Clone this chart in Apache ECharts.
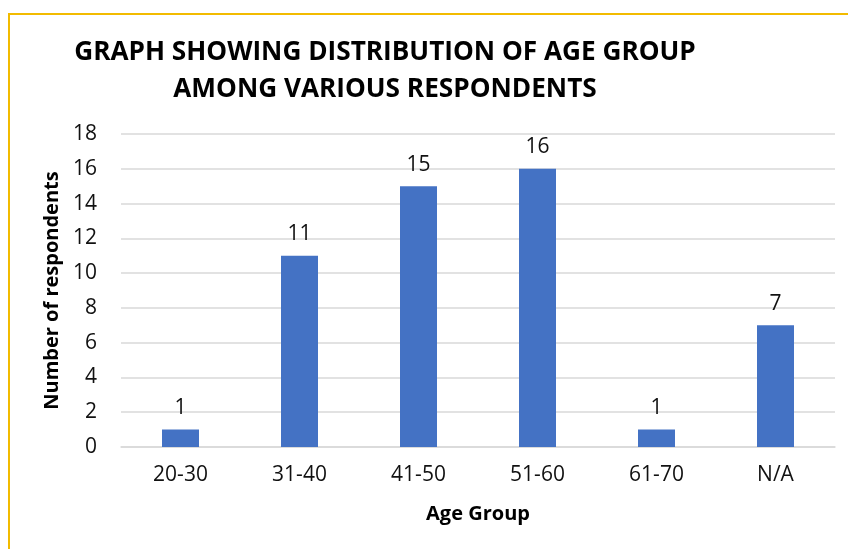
<!DOCTYPE html>
<html>
<head>
<meta charset="utf-8">
<script src="https://cdn.jsdelivr.net/npm/echarts@6/dist/echarts.min.js"></script>
<style>
  html, body { margin: 0; padding: 0; background: #fff; }
  #chart { width: 848px; height: 549px; }
</style>
</head>
<body>
<div id="chart"></div>
<script>
var ageGroups = ['20-30', '31-40', '41-50', '51-60', '61-70', 'N/A'];
var respondents = [1, 11, 15, 16, 1, 7];

var font = '"Open Sans", sans-serif';

var chart = echarts.init(document.getElementById('chart'));

var option = {
    backgroundColor: '#fff',
    textStyle: { fontFamily: font },
    title: {
        text: 'GRAPH SHOWING DISTRIBUTION OF AGE GROUP\nAMONG VARIOUS RESPONDENTS',
        left: 380,
        top: 29,
        textAlign: 'center',
        textStyle: {
            fontFamily: font,
            fontSize: 26.2,
            fontWeight: 'bold',
            color: '#000',
            lineHeight: 37,
            align: 'center'
        }
    },
    graphic: [{
        type: 'rect',
        shape: { x: 9, y: 14, width: 900, height: 600 },
        style: { fill: null, stroke: '#F2BB00', lineWidth: 2 }
    }],
    grid: { left: 121, right: 13, top: 134, bottom: 102 },
    xAxis: {
        type: 'category',
        data: ageGroups,
        name: 'Age Group',
        nameLocation: 'middle',
        nameGap: 57,
        nameTextStyle: { fontFamily: font, fontSize: 20, fontWeight: 'bold', color: '#000' },
        axisLine: { lineStyle: { color: '#d9d9d9', width: 1.5 } },
        axisTick: { show: false },
        axisLabel: { fontFamily: font, fontSize: 21, color: '#111', margin: 18 }
    },
    yAxis: {
        type: 'value',
        min: 0,
        max: 18,
        interval: 2,
        name: 'Number of respondents',
        nameLocation: 'middle',
        nameGap: 57,
        nameTextStyle: { fontFamily: font, fontSize: 20, fontWeight: 'bold', color: '#000' },
        axisLine: { show: false },
        axisTick: { show: false },
        axisLabel: { fontFamily: font, fontSize: 21, color: '#111', margin: 24 },
        splitLine: { lineStyle: { color: '#d9d9d9', width: 1.5 } }
    },
    series: [{
        name: 'Respondents',
        type: 'bar',
        data: respondents,
        barWidth: 37,
        itemStyle: { color: '#4472C4' },
        label: {
            show: true,
            position: 'top',
            distance: 11,
            fontFamily: font,
            fontSize: 21,
            color: '#111'
        }
    }]
};

option && chart.setOption(option);
window.addEventListener('resize', chart.resize);
</script>
</body>
</html>
